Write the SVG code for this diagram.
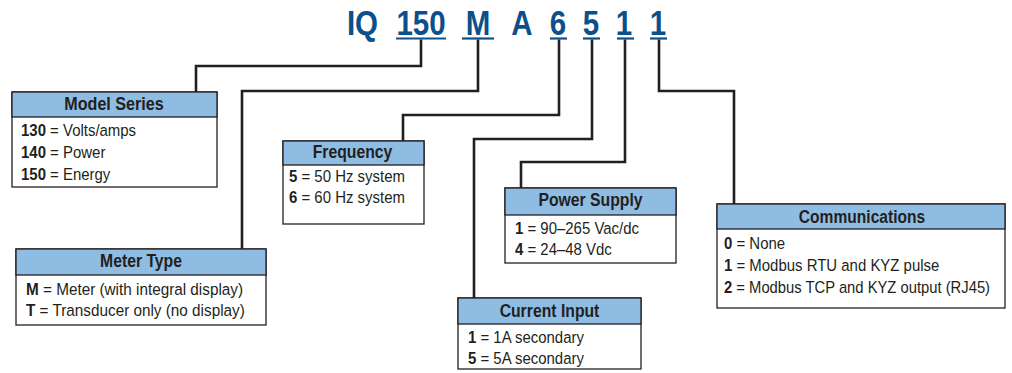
<svg xmlns="http://www.w3.org/2000/svg" width="1012" height="373" viewBox="0 0 1012 373">
<style>
.title{font-family:"Liberation Sans",Arial,sans-serif;font-weight:bold;font-size:36px;fill:#0d4f8b;text-anchor:middle}
.ul{stroke:#0d4f8b;stroke-width:2.2}
.conn{fill:none;stroke:#231f20;stroke-width:2.6}
.box{fill:#ffffff;stroke:#231f20;stroke-width:1.3}
.hdr{fill:#8fbce2;stroke:#231f20;stroke-width:1.3}
.ht{font-family:"Liberation Sans",Arial,sans-serif;font-weight:bold;font-size:19px;fill:#231f20;text-anchor:middle}
.bt{font-family:"Liberation Sans",Arial,sans-serif;font-size:17px;fill:#231f20}
.k{font-weight:bold}
</style>
<g id="title">
<text class="title" transform="translate(362.5,35) scale(0.82,1)">IQ</text>
<text class="title" transform="translate(421,35) scale(0.82,1)">150</text>
<text class="title" transform="translate(478,35) scale(0.82,1)">M</text>
<text class="title" transform="translate(522,35) scale(0.82,1)">A</text>
<text class="title" transform="translate(558,35) scale(0.82,1)">6</text>
<text class="title" transform="translate(591,35) scale(0.82,1)">5</text>
<text class="title" transform="translate(624,35) scale(0.82,1)">1</text>
<text class="title" transform="translate(658,35) scale(0.82,1)">1</text>
<line class="ul" x1="396" y1="38.5" x2="446" y2="38.5"/>
<line class="ul" x1="462" y1="38.5" x2="494" y2="38.5"/>
<line class="ul" x1="550" y1="38.5" x2="567" y2="38.5"/>
<line class="ul" x1="583" y1="38.5" x2="600" y2="38.5"/>
<line class="ul" x1="617" y1="38.5" x2="634" y2="38.5"/>
<line class="ul" x1="650" y1="38.5" x2="667" y2="38.5"/>
</g>
<g id="connectors">
<path class="conn" d="M421,39.5 V66 H196 V92"/>
<path class="conn" d="M478,39.5 V91 H242 V249"/>
<path class="conn" d="M559,39.5 V115 H403 V141"/>
<path class="conn" d="M592,39.5 V139 H474 V298"/>
<path class="conn" d="M625,39.5 V162 H521 V188"/>
<path class="conn" d="M659,39.5 V91 H734 V204"/>
</g>
<g id="model-series">
<rect class="box" x="12" y="92" width="205" height="95"/>
<rect class="hdr" x="12" y="92" width="205" height="25"/>
<text class="ht" transform="translate(114,110) scale(0.85,1)">Model Series</text>
<text class="bt" transform="translate(21,136) scale(0.88,1)"><tspan class="k">130</tspan> = Volts/amps</text>
<text class="bt" transform="translate(21,158) scale(0.88,1)"><tspan class="k">140</tspan> = Power</text>
<text class="bt" transform="translate(21,180) scale(0.88,1)"><tspan class="k">150</tspan> = Energy</text>
</g>
<g id="meter-type">
<rect class="box" x="16" y="249" width="250" height="76"/>
<rect class="hdr" x="16" y="249" width="250" height="26"/>
<text class="ht" transform="translate(141,267) scale(0.83,1)">Meter Type</text>
<text class="bt" transform="translate(26,295) scale(0.9,1)"><tspan class="k">M</tspan> = Meter (with integral display)</text>
<text class="bt" transform="translate(26,316) scale(0.9,1)"><tspan class="k">T</tspan> = Transducer only (no display)</text>
</g>
<g id="frequency">
<rect class="box" x="283" y="141" width="141" height="83"/>
<rect class="hdr" x="283" y="141" width="141" height="24"/>
<text class="ht" transform="translate(352.5,158) scale(0.83,1)">Frequency</text>
<text class="bt" transform="translate(289,182) scale(0.88,1)"><tspan class="k">5</tspan> = 50 Hz system</text>
<text class="bt" transform="translate(289,203) scale(0.88,1)"><tspan class="k">6</tspan> = 60 Hz system</text>
</g>
<g id="power-supply">
<rect class="box" x="505" y="188" width="171" height="75"/>
<rect class="hdr" x="505" y="188" width="171" height="27"/>
<text class="ht" transform="translate(590.5,206) scale(0.83,1)">Power Supply</text>
<text class="bt" transform="translate(515,234) scale(0.88,1)"><tspan class="k">1</tspan> = 90–265 Vac/dc</text>
<text class="bt" transform="translate(515,255) scale(0.88,1)"><tspan class="k">4</tspan> = 24–48 Vdc</text>
</g>
<g id="current-input">
<rect class="box" x="458" y="298" width="183" height="71"/>
<rect class="hdr" x="458" y="298" width="183" height="26"/>
<text class="ht" transform="translate(549.5,317) scale(0.83,1)">Current Input</text>
<text class="bt" transform="translate(468,343) scale(0.88,1)"><tspan class="k">1</tspan> = 1A secondary</text>
<text class="bt" transform="translate(468,364) scale(0.88,1)"><tspan class="k">5</tspan> = 5A secondary</text>
</g>
<g id="communications">
<rect class="box" x="717" y="204" width="288" height="104"/>
<rect class="hdr" x="717" y="204" width="288" height="25"/>
<text class="ht" transform="translate(862,223) scale(0.82,1)">Communications</text>
<text class="bt" transform="translate(724,249) scale(0.88,1)"><tspan class="k">0</tspan> = None</text>
<text class="bt" transform="translate(724,271) scale(0.88,1)"><tspan class="k">1</tspan> = Modbus RTU and KYZ pulse</text>
<text class="bt" transform="translate(724,293) scale(0.87,1)"><tspan class="k">2</tspan> = Modbus TCP and KYZ output (RJ45)</text>
</g>
</svg>
